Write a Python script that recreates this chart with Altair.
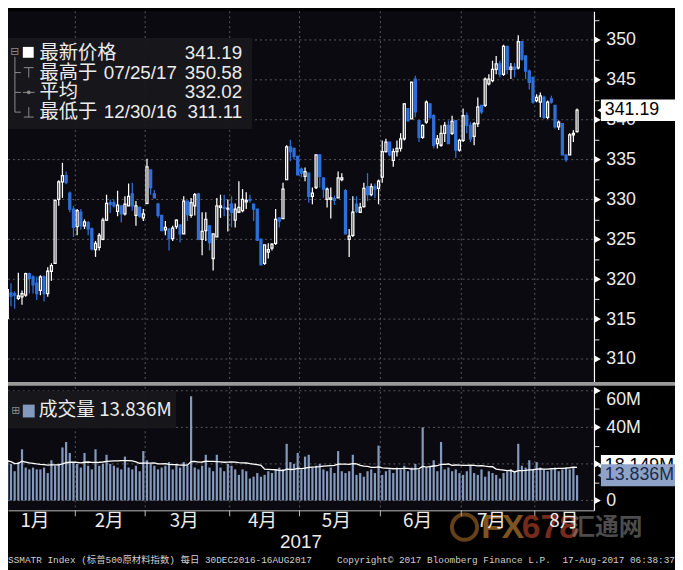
import altair as alt
import pandas as pd

# ---------------- data ----------------
open_ = [314.5, 313.1, 315.1, 318.3, 318.2, 317.6, 317.8, 318.0, 320.7, 320.3,
         319.5, 318.6, 320.3, 318.2, 321.0, 322.0, 330.0, 332.2, 333.0, 330.8,
         328.8, 326.6, 328.4, 326.7, 327.1, 326.3, 323.7, 324.0, 325.0, 327.4,
         329.6, 329.6, 328.5, 329.2, 328.2, 329.2, 330.7, 328.0, 329.0, 327.7,
         329.5, 333.7, 330.7, 329.4, 328.0, 326.2, 326.3, 325.1, 326.6, 326.8,
         325.7, 329.8, 328.0, 329.2, 330.7, 325.0, 326.1, 326.7, 322.6, 325.3,
         329.0, 329.0, 328.8, 329.4, 327.4, 328.4, 328.6, 329.7, 330.0, 329.4,
         328.8, 325.0, 322.0, 323.4, 323.9, 324.5, 327.7, 327.6, 332.5, 336.6,
         336.4, 335.4, 333.8, 332.9, 333.3, 330.4, 331.5, 335.6, 332.7, 330.0,
         330.0, 330.1, 330.2, 332.5, 331.1, 325.0, 325.5, 329.4, 328.4, 329.1,
         331.6, 330.6, 331.6, 331.4, 332.8, 336.0, 337.2, 334.9, 336.0, 336.4,
         337.6, 341.4, 340.1, 345.1, 339.9, 337.8, 339.7, 342.0, 340.5, 337.0,
         336.8, 338.3, 339.3, 338.3, 339.9, 336.2, 337.4, 340.5, 339.3, 337.9,
         339.5, 341.8, 341.8, 344.5, 344.9, 346.3, 347.0, 345.7, 349.2, 346.3,
         346.6, 346.5, 349.8, 348.0, 346.1, 345.3, 342.4, 342.2, 342.8, 340.3,
         342.6, 341.8, 339.1, 339.5, 335.6, 335.6, 338.1, 338.5]
high = [315.0, 315.5, 319.3, 319.5, 318.5, 320.8, 318.6, 320.8, 320.8, 320.5,
        320.3, 320.5, 320.5, 321.5, 322.0, 330.0, 332.4, 334.6, 333.5, 331.0,
        329.2, 328.8, 328.8, 327.5, 327.3, 326.5, 324.8, 325.8, 327.7, 330.6,
        330.0, 330.0, 331.1, 329.2, 330.4, 332.0, 332.1, 329.8, 329.1, 328.8,
        335.1, 333.7, 331.2, 329.6, 328.0, 327.3, 326.3, 326.7, 327.5, 326.8,
        330.4, 329.8, 330.2, 330.8, 330.8, 328.4, 328.4, 326.7, 325.7, 330.2,
        330.6, 330.6, 330.0, 330.4, 329.5, 332.3, 331.3, 330.9, 330.6, 329.4,
        328.8, 325.1, 324.3, 324.5, 324.5, 328.8, 327.8, 332.1, 336.8, 337.5,
        336.5, 335.4, 334.0, 334.0, 333.3, 331.5, 335.6, 335.6, 332.7, 331.5,
        331.5, 330.5, 333.5, 333.3, 331.3, 326.3, 330.4, 330.4, 329.6, 332.1,
        333.3, 332.0, 332.0, 332.5, 337.4, 337.6, 337.2, 336.4, 337.4, 338.3,
        342.1, 341.4, 344.7, 345.5, 339.9, 339.4, 342.4, 342.0, 340.7, 338.1,
        339.3, 339.7, 339.9, 340.5, 339.9, 337.6, 341.4, 340.9, 339.7, 339.7,
        342.8, 341.8, 345.3, 345.7, 347.4, 348.0, 347.4, 349.4, 349.2, 347.1,
        347.1, 350.58, 349.8, 348.0, 346.3, 345.3, 343.2, 343.4, 343.0, 342.4,
        343.0, 341.8, 339.9, 339.5, 335.6, 338.3, 338.7, 341.4]
low = [311.11, 312.1, 314.9, 316.6, 316.3, 317.4, 316.8, 317.8, 318.2, 318.2,
       317.4, 318.0, 317.2, 317.8, 319.8, 322.0, 329.2, 330.2, 331.9, 328.4,
       325.3, 325.5, 326.2, 326.3, 325.5, 323.6, 322.8, 323.6, 324.9, 327.3,
       328.3, 329.0, 327.9, 327.1, 328.0, 329.2, 328.6, 326.7, 327.7, 327.3,
       329.4, 330.6, 330.2, 327.7, 326.1, 325.5, 323.6, 324.8, 326.3, 324.6,
       325.7, 327.3, 327.7, 328.0, 324.9, 323.0, 324.8, 323.6, 321.1, 325.3,
       327.7, 327.9, 326.0, 326.5, 326.5, 328.4, 328.4, 328.8, 329.6, 327.3,
       324.8, 321.8, 321.8, 322.6, 323.6, 324.3, 326.5, 327.6, 332.5, 334.8,
       335.0, 333.1, 332.8, 332.3, 329.6, 329.4, 331.3, 331.5, 330.2, 329.0,
       327.6, 329.3, 330.2, 332.3, 325.7, 322.8, 325.3, 328.3, 328.3, 329.0,
       329.8, 330.4, 330.2, 329.4, 332.1, 335.9, 335.4, 334.1, 335.4, 336.0,
       337.4, 339.7, 340.1, 340.3, 337.2, 337.6, 339.5, 340.1, 336.4, 336.4,
       336.6, 337.2, 337.0, 338.1, 335.2, 336.0, 337.2, 338.3, 337.2, 336.8,
       339.1, 340.7, 341.6, 344.3, 344.7, 345.7, 345.3, 345.5, 345.7, 345.1,
       345.3, 346.3, 347.4, 345.1, 343.8, 342.0, 342.2, 340.3, 340.1, 340.1,
       342.0, 338.9, 338.7, 335.6, 334.7, 335.6, 337.2, 338.4]
close = [311.8, 314.3, 318.7, 317.9, 318.0, 317.9, 318.2, 320.7, 320.1, 319.3,
         318.2, 320.3, 318.2, 321.0, 321.7, 329.9, 332.2, 333.0, 332.1, 328.8,
         326.5, 328.6, 326.7, 327.2, 326.3, 323.8, 324.5, 325.5, 327.4, 329.5,
         329.4, 329.2, 329.3, 328.2, 329.4, 330.4, 329.2, 329.2, 327.9, 328.2,
         334.1, 331.5, 330.2, 328.0, 326.1, 326.5, 325.1, 326.4, 327.4, 325.7,
         329.8, 328.1, 329.6, 330.6, 325.0, 326.0, 327.5, 324.6, 325.7, 329.2,
         329.2, 328.9, 328.9, 328.4, 328.8, 329.0, 330.0, 329.9, 329.9, 328.8,
         324.9, 321.8, 324.3, 323.7, 324.4, 327.5, 327.3, 331.3, 336.6, 336.0,
         335.4, 333.1, 333.3, 333.5, 330.4, 330.8, 335.6, 332.9, 331.3, 331.3,
         330.2, 329.9, 332.7, 332.7, 325.7, 325.4, 328.4, 328.5, 329.0, 331.4,
         330.6, 331.6, 331.3, 332.3, 336.0, 337.2, 335.6, 336.0, 336.4, 337.6,
         342.0, 339.9, 344.7, 341.0, 337.8, 339.3, 342.2, 340.3, 336.8, 337.6,
         338.3, 339.3, 337.0, 339.8, 336.2, 337.4, 340.5, 339.3, 337.6, 339.5,
         341.6, 341.0, 345.1, 345.1, 346.3, 347.0, 345.7, 349.2, 346.3, 346.6,
         346.3, 349.8, 347.6, 346.1, 344.7, 342.2, 342.8, 343.0, 340.3, 342.2,
         342.2, 339.1, 339.7, 335.6, 335.0, 338.1, 338.3, 341.19]
volume = [21, 22, 22, 20, 16, 21, 28, 18, 17, 18,
          17, 17, 18, 15, 22, 19, 20, 29, 32, 26,
          21, 20, 18, 26, 19, 17, 28, 19, 20, 25,
          20, 19, 18, 17, 24, 18, 17, 19, 16, 27,
          22, 20, 19, 17, 18, 19, 21, 17, 20, 18,
          21, 19, 57, 18, 17, 19, 25, 18, 16, 25,
          18, 16, 20, 19, 17, 14, 17, 16, 12, 13,
          15, 13, 14, 16, 15, 17, 18, 17, 31, 21,
          20, 26, 17, 24, 25, 18, 19, 20, 17, 16,
          18, 15, 27, 16, 15, 16, 25, 14, 15, 13,
          16, 17, 15, 30, 14, 16, 17, 15, 18, 17,
          19, 16, 18, 20, 17, 40, 18, 19, 22, 16,
          32, 17, 18, 16, 17, 15, 14, 16, 19, 15,
          14, 17, 13, 16, 15, 14, 12, 15, 16, 17,
          16, 31, 19, 18, 22, 17, 21, 18, 17, 16,
          17, 18, 16, 17, 18, 17, 18, 13.836]

month_labels = ["1月", "2月", "3月", "4月", "5月", "6月", "7月", "8月"]
month_centers = [9.4, 29.6, 50.0, 71.3, 91.4, 113.5, 133.6, 153.3]
month_bounds = [20.5, 39.5, 62.5, 81.5, 103.5, 125.5, 145.5]
year_label = "2017"
price_ticks = [310, 315, 320, 325, 330, 335, 340, 345, 350]
price_minor = [310 + 2.5 * k for k in range(18)]
vol_ticks = [0, 20, 40, 60]
vol_minor = [0, 10, 20, 30, 40, 50, 60]
ma_tag_value = 18.9
last_price = close[-1]
last_volume = volume[-1]

df = pd.DataFrame({"i": list(range(len(close))), "o": open_, "h": high,
                   "l": low, "c": close, "v": volume})
ONE = pd.DataFrame({"k": [0]})

# ---------------- styling ----------------
W, H = 593, 505
SANS = "Liberation Sans, Noto Sans CJK SC, sans-serif"
CJK = "Noto Sans CJK SC, Liberation Sans, sans-serif"
MONO = "Liberation Mono, Noto Sans CJK SC, monospace"
BLUE = "#2f6fd8"
VOLC = "#8399bd"
BG = "#0a0a10"
TXT = "#ececec"
GRID = "#5a5a5a"

xs = alt.Scale(domain=[2.19, 161.6], nice=False, zero=False)
ps = alt.Scale(domain=[307.13, 353.59], range=[375, 0], nice=False, zero=False)
vs = alt.Scale(domain=[-5.4, 62.16], range=[505, 380], nice=False, zero=False)

expr = "'" + month_labels[-1] + "'"
for b, lab in reversed(list(zip(month_bounds, month_labels[:-1]))):
    expr = f"datum.value < {b} ? '{lab}' : ({expr})"

x_axis = alt.Axis(values=month_centers, labelExpr=expr, ticks=False,
                  domain=True, domainColor="#bdbdbd", grid=False,
                  labelFontSize=19, labelColor=TXT, labelFont=CJK,
                  labelPadding=1, labelFlush=False, labelOverlap=False,
                  title="", titleOpacity=0, titleFontSize=1, zindex=1)


def X(field):
    return alt.X(field, scale=xs, axis=x_axis, title="")


p_axis = alt.Axis(orient="right", values=price_minor,
                  labelExpr="datum.value % 5 == 0 ? format(datum.value, 'd') : ''",
                  tickSize=5, tickColor="#dddddd", domainColor="#ffffff",
                  domainWidth=1.2, labelPadding=7, labelFontSize=18,
                  labelColor=TXT, labelFont=SANS, grid=False, title=None,
                  labelFlush=False, labelOverlap=False)

v_axis = alt.Axis(orient="right", values=vol_minor,
                  labelExpr="datum.value == 0 ? '0' : (datum.value % 20 == 0 ? datum.value + 'M' : '')",
                  tickSize=5, tickColor="#dddddd", domainColor="#ffffff",
                  domainWidth=1.2, labelPadding=7, labelFontSize=18,
                  labelColor=TXT, labelFont=SANS, grid=False, title=None,
                  labelFlush=False, labelOverlap=False,
                  labelBaseline={"condition": {"test": "datum.value == 60", "value": "top"},
                                 "value": "middle"})


def txt(s, x, y, size=18, color=TXT, align="left", font=SANS, weight="normal", opacity=1.0):
    return alt.Chart(ONE).mark_text(text=s, align=align, baseline="middle", fontSize=size,
                                    color=color, font=font, fontWeight=weight,
                                    opacity=opacity).encode(x=alt.value(x), y=alt.value(y))


def seg(x1, y1, x2, y2, color="#8c8c8c", width=1.0):
    return alt.Chart(ONE).mark_rule(color=color, strokeWidth=width).encode(
        x=alt.value(x1), y=alt.value(y1), x2=alt.value(x2), y2=alt.value(y2))


def box(x1, y1, x2, y2, fill, opacity=1.0):
    return alt.Chart(ONE).mark_rect(color=fill, opacity=opacity).encode(
        x=alt.value(x1), x2=alt.value(x2), y=alt.value(y1), y2=alt.value(y2))


up = "datum.c >= datum.o"

# gridlines
pgrid = alt.Chart(pd.DataFrame({"p": price_ticks})).mark_rule(
    color=GRID, strokeDash=[2, 3], strokeWidth=1).encode(
    y=alt.Y("p:Q", scale=ps, axis=None), x=alt.value(0), x2=alt.value(W))
vgrid = alt.Chart(pd.DataFrame({"q": vol_ticks})).mark_rule(
    color=GRID, strokeDash=[2, 3], strokeWidth=1).encode(
    y=alt.Y("q:Q", scale=vs, axis=None), x=alt.value(0), x2=alt.value(W))
bdf = pd.DataFrame({"b": month_bounds})
mgrid_p = alt.Chart(bdf).mark_rule(color=GRID, strokeDash=[2, 3]).encode(
    x=X("b:Q"), y=alt.value(0), y2=alt.value(375))
mgrid_v = alt.Chart(bdf).mark_rule(color=GRID, strokeDash=[2, 3]).encode(
    x=X("b:Q"), y=alt.value(380), y2=alt.value(505))
mticks = alt.Chart(bdf).mark_rule(color="#bdbdbd").encode(
    x=X("b:Q"), y=alt.value(505), y2=alt.value(511))

separator = box(0, 375, 675, 379, "#9a9a9a")

# volume
vbars = alt.Chart(df).transform_calculate(
    lo="datum.i - 0.3", hi="datum.i + 0.3", zero="0").mark_rect(color=VOLC).encode(
    x=X("lo:Q"), x2="hi:Q",
    y=alt.Y("v:Q", scale=vs, axis=v_axis), y2="zero:Q")
vma = alt.Chart(df).transform_window(
    ma="mean(v)", frame=[-19, 0], sort=[{"field": "i"}]).mark_line(
    color="white", strokeWidth=1.3).encode(
    x=X("i:Q"), y=alt.Y("ma:Q", scale=vs, axis=None))

# candles
wicks = alt.Chart(df).mark_rule(strokeWidth=1.25).encode(
    x=X("i:Q"),
    y=alt.Y("l:Q", scale=ps, axis=None), y2="h:Q",
    color=alt.condition(up, alt.value("white"), alt.value(BLUE)))
bodies = alt.Chart(df).transform_calculate(
    lo="datum.i - 0.27", hi="datum.i + 0.27").mark_rect(strokeWidth=1.3).encode(
    x=X("lo:Q"), x2="hi:Q",
    y=alt.Y("o:Q", scale=ps, axis=p_axis), y2="c:Q",
    fill=alt.condition(up, alt.value(BG), alt.value(BLUE)),
    stroke=alt.condition(up, alt.value("white"), alt.value(BLUE)))

ptri = alt.Chart(pd.DataFrame({"p": price_ticks})).mark_point(
    shape="triangle-right", filled=True, size=45, color="white", opacity=1).encode(
    y=alt.Y("p:Q", scale=ps, axis=None), x=alt.value(597))
vtri = alt.Chart(pd.DataFrame({"q": vol_ticks})).mark_point(
    shape="triangle-right", filled=True, size=45, color="white", opacity=1).encode(
    y=alt.Y("q:Q", scale=vs, axis=None), x=alt.value(597))


def tag(value, scale, half, fill, text, tcolor):
    d = pd.DataFrame({"val": [value]})
    base = alt.Chart(d).transform_calculate(t=f"datum.val + {half}", b=f"datum.val - {half}")
    r = base.mark_rect(color=fill).encode(
        x=alt.value(600), x2=alt.value(675),
        y=alt.Y("t:Q", scale=scale, axis=None), y2="b:Q")
    a = alt.Chart(d).mark_point(shape="triangle-left", filled=True, size=380,
                                color=fill, opacity=1).encode(
        x=alt.value(605), y=alt.Y("val:Q", scale=scale, axis=None))
    t = alt.Chart(d).mark_text(text=text, align="left", baseline="middle", fontSize=18,
                               font=SANS, color=tcolor).encode(
        x=alt.value(604), y=alt.Y("val:Q", scale=scale, axis=None))
    return [r, a, t]


ptag = tag(last_price, ps, 1.35, "#ffffff", f"{last_price:.2f}", "#000000")
matag = tag(ma_tag_value, vs, 6.0, "#ffffff", "18.149M", "#000000")
vtag = tag(last_volume, vs, 6.0, "#8ea3c7", f"{last_volume:.3f}M", "#1d2b4a")

# legend boxes
leg = [
    box(0, 27, 247, 119, "#17171c", 0.95),
    txt("⊟", 7, 41, size=11, color="#8c8c8c", align="center", font="DejaVu Sans"),
    box(15, 36, 26, 47, "#ffffff"),
    seg(7, 46, 7, 102), seg(7, 62, 13, 62), seg(7, 82, 13, 82), seg(7, 102, 13, 102),
    seg(16, 57, 26, 57), seg(21, 57, 21, 67),
    seg(15, 82, 27, 82),
    alt.Chart(ONE).mark_point(shape="circle", filled=True, size=14, color="#8c8c8c",
                              opacity=1).encode(x=alt.value(21), y=alt.value(82)),
    seg(21, 97, 21, 107), seg(16, 107, 26, 107),
    txt("最新价格", 32, 42, size=19.5, font=CJK),
    txt("最高于", 32, 62, size=19.5, font=CJK),
    txt("平均", 32, 82, size=19.5, font=CJK),
    txt("最低于", 32, 102, size=19.5, font=CJK),
    txt("07/25/17", 97, 62, size=19),
    txt("12/30/16", 97, 102, size=19),
    txt("341.19", 237, 42, size=19, align="right"),
    txt("350.58", 237, 62, size=19, align="right"),
    txt("332.02", 237, 82, size=19, align="right"),
    txt("311.11", 237, 102, size=19, align="right"),
    box(0, 384, 170, 422, "#17171c", 0.95),
    txt("⊞", 8, 404, size=11, color="#8c8c8c", align="center", font="DejaVu Sans"),
    box(15, 398, 27, 411, VOLC),
    txt("成交量 13.836M", 31, 404, size=19, font=CJK),
]

year = [txt(year_label, W / 2, 537, size=19, align="center")]

footer = [
    txt("SSMATR Index (标普500原材料指数)  每日 30DEC2016-16AUG2017", 0, 555, size=9.5,
        color="#cfcfcf", font=MONO),
    txt("Copyright© 2017 Bloomberg Finance L.P.", 333, 555, size=9.5, color="#cfcfcf", font=MONO),
    txt("17-Aug-2017 06:38:37", 675, 555, size=9.5, color="#cfcfcf", font=MONO, align="right"),
]

watermark = [
    alt.Chart(ONE).mark_point(shape="circle", filled=False, size=650, color="#c98232",
                              strokeWidth=4, opacity=0.5).encode(x=alt.value(462), y=alt.value(522)),
    txt("FX", 479, 523, size=34, color="#d08a34", weight="bold", opacity=0.6),
    txt("678", 520, 523, size=34, color="#c4472e", weight="bold", opacity=0.6),
    txt("汇通网", 570, 523, size=24, color="#8a8a8a", font=CJK, weight="bold", opacity=0.55),
]

layers = ([pgrid, vgrid, mgrid_p, mgrid_v, separator, vbars, vma, wicks, bodies,
           ptri, vtri, mticks] + leg + matag + vtag + ptag + watermark + year + footer)

chart = alt.layer(*layers).resolve_scale(y="independent").properties(
    width=W, height=H,
    autosize=alt.AutoSizeParams(type="none"),
    padding={"left": 0, "top": 0, "right": 82, "bottom": 57},
    background="#000000",
).configure_view(fill=BG, stroke=None)

chart.save("out.html", embed_options={"renderer": "svg", "actions": False})
